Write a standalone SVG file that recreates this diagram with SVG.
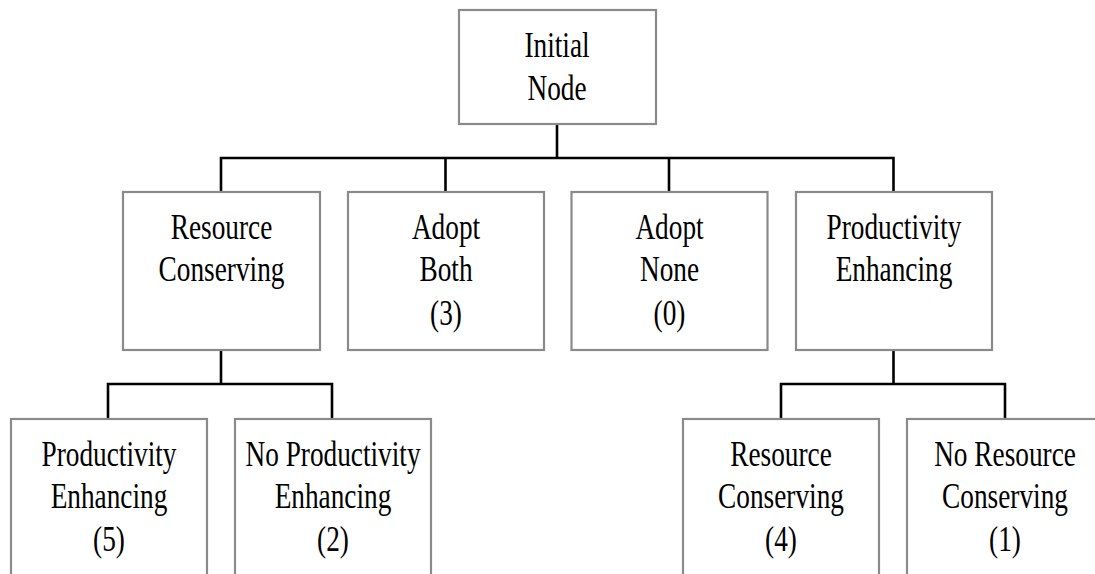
<svg xmlns="http://www.w3.org/2000/svg" width="1095" height="574" viewBox="0 0 1095 574">
<style>
.box{fill:#fff;stroke:#8a8a8a;stroke-width:2.2}
.lbl{font-family:'Liberation Serif','Times New Roman',serif;font-size:35px;fill:#000;text-anchor:middle}
.conn{fill:none;stroke:#000;stroke-width:2.6;stroke-linejoin:miter;stroke-linecap:butt}
</style>
<rect width="1095" height="574" fill="#fff"/>
<g id="connectors">
<path class="conn" d="M557 124 V158 M221 192 V158 H893.5 V192 M445.5 158 V192 M669 158 V192"/>
<path class="conn" d="M221 350 V384 M108 419 V384 H332 V419"/>
<path class="conn" d="M893.5 350 V384 M781 419 V384 H1005 V419"/>
</g>
<g id="initial-node">
<rect class="box" x="459" y="10" width="197" height="114"/>
<text class="lbl" transform="matrix(0.78 0 0 1 557 0)" x="0" y="57">Initial</text>
<text class="lbl" transform="matrix(0.78 0 0 1 557 0)" x="0" y="100">Node</text>
</g>
<g id="resource-conserving">
<rect class="box" x="123" y="192" width="197" height="158"/>
<text class="lbl" transform="matrix(0.78 0 0 1 221.5 0)" x="0" y="239">Resource</text>
<text class="lbl" transform="matrix(0.78 0 0 1 221.5 0)" x="0" y="281.5">Conserving</text>
</g>
<g id="adopt-both">
<rect class="box" x="348" y="192" width="196" height="158"/>
<text class="lbl" transform="matrix(0.78 0 0 1 446 0)" x="0" y="239">Adopt</text>
<text class="lbl" transform="matrix(0.78 0 0 1 446 0)" x="0" y="281.5">Both</text>
<text class="lbl" transform="matrix(0.78 0 0 1 446 0)" x="0" y="325">(3)</text>
</g>
<g id="adopt-none">
<rect class="box" x="571.5" y="192" width="196" height="158"/>
<text class="lbl" transform="matrix(0.78 0 0 1 669.5 0)" x="0" y="239">Adopt</text>
<text class="lbl" transform="matrix(0.78 0 0 1 669.5 0)" x="0" y="281.5">None</text>
<text class="lbl" transform="matrix(0.78 0 0 1 669.5 0)" x="0" y="325">(0)</text>
</g>
<g id="productivity-enhancing">
<rect class="box" x="796" y="192" width="196" height="158"/>
<text class="lbl" transform="matrix(0.78 0 0 1 894 0)" x="0" y="239">Productivity</text>
<text class="lbl" transform="matrix(0.78 0 0 1 894 0)" x="0" y="281.5">Enhancing</text>
</g>
<g id="rc-productivity-enhancing">
<rect class="box" x="11" y="419" width="196" height="200"/>
<text class="lbl" transform="matrix(0.78 0 0 1 109 0)" x="0" y="466">Productivity</text>
<text class="lbl" transform="matrix(0.78 0 0 1 109 0)" x="0" y="508.5">Enhancing</text>
<text class="lbl" transform="matrix(0.78 0 0 1 109 0)" x="0" y="551">(5)</text>
</g>
<g id="rc-no-productivity-enhancing">
<rect class="box" x="235" y="419" width="196" height="200"/>
<text class="lbl" transform="matrix(0.78 0 0 1 333 0)" x="0" y="466">No Productivity</text>
<text class="lbl" transform="matrix(0.78 0 0 1 333 0)" x="0" y="508.5">Enhancing</text>
<text class="lbl" transform="matrix(0.78 0 0 1 333 0)" x="0" y="551">(2)</text>
</g>
<g id="pe-resource-conserving">
<rect class="box" x="683" y="419" width="196" height="200"/>
<text class="lbl" transform="matrix(0.78 0 0 1 781 0)" x="0" y="466">Resource</text>
<text class="lbl" transform="matrix(0.78 0 0 1 781 0)" x="0" y="508.5">Conserving</text>
<text class="lbl" transform="matrix(0.78 0 0 1 781 0)" x="0" y="551">(4)</text>
</g>
<g id="pe-no-resource-conserving">
<rect class="box" x="907" y="419" width="196" height="200"/>
<text class="lbl" transform="matrix(0.78 0 0 1 1005 0)" x="0" y="466">No Resource</text>
<text class="lbl" transform="matrix(0.78 0 0 1 1005 0)" x="0" y="508.5">Conserving</text>
<text class="lbl" transform="matrix(0.78 0 0 1 1005 0)" x="0" y="551">(1)</text>
</g>
</svg>
